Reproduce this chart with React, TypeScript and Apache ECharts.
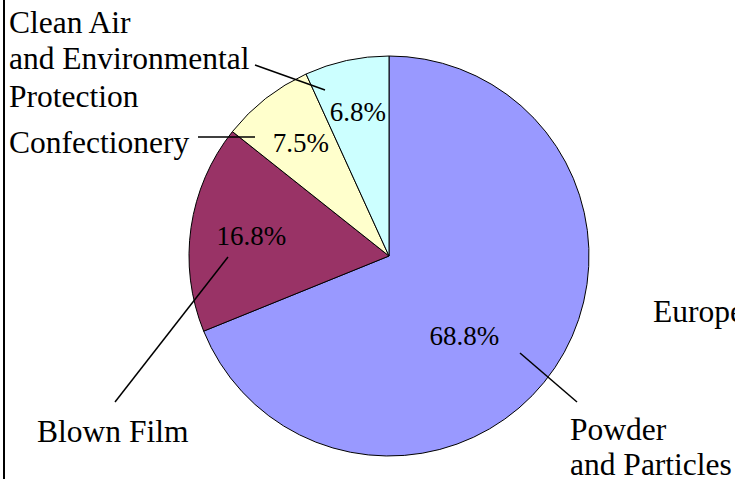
import React, { useEffect, useRef } from "react";
import * as echarts from "echarts";

// Segment shares (%), drawn clockwise from 12 o'clock
const categories = ["Powder and Particles", "Blown Film", "Confectionery", "Clean Air and Environmental Protection"];
const shares = [68.8, 16.8, 7.5, 6.8];
const sliceColors = ["#9999FF", "#993366", "#FFFFCC", "#CCFFFF"];

// Category label text as it is broken over lines
const categoryLines = [
  ["Powder", "and Particles"],
  ["Blown Film"],
  ["Confectionery"],
  ["Clean Air", "and Environmental", "Protection"],
];
const regionLabel = "Europe";

// Layout
const W = 735;
const H = 479;
const CX = 389;
const CY = 256;
const R = 200;
const FONT = "Liberation Serif, Times New Roman, serif";
const PCT_SIZE = 27;
const CAT_SIZE = 31.5;

// Where the percentage text sits inside each slice (fraction of radius, angle nudge in degrees)
const pctRadiusFrac = [0.55, 0.695, 0.715, 0.735];
const pctAngleShift = [12.7, 0, 0, 0];

// Category label anchors: left x and the baseline of each line
const catAnchors: { x: number; baselines: number[] }[] = [
  { x: 570, baselines: [440, 475] },
  { x: 37, baselines: [442] },
  { x: 9, baselines: [153] },
  { x: 9, baselines: [33, 69, 107] },
];
// Leader lines from label to slice
const leaders: [number, number, number, number][] = [
  [577, 402, 520, 353],
  [115, 402, 228, 257],
  [198, 137, 255, 137],
  [255, 65, 325, 90],
];

export default function App() {
  const ref = useRef<HTMLDivElement>(null);

  useEffect(() => {
    if (!ref.current) return;
    const chart = echarts.init(ref.current, undefined, { renderer: "svg" });

    const total = shares.reduce((a, b) => a + b, 0);
    let acc = 0;
    const midAngles = shares.map((v) => {
      const m = ((acc + v / 2) / total) * 360;
      acc += v;
      return m;
    });

    const pctPos = midAngles.map((m, i) => {
      const a = ((m + pctAngleShift[i]) * Math.PI) / 180;
      const r = R * pctRadiusFrac[i];
      return [CX + r * Math.sin(a), CY - r * Math.cos(a)];
    });

    // central baseline offset for the serif face
    const centralShift = (fs: number) => fs * 0.3375;

    const graphics: any[] = [
      {
        type: "line",
        shape: { x1: 4, y1: 0, x2: 4, y2: H },
        style: { stroke: "#000", lineWidth: 2 },
        silent: true,
      },
    ];

    leaders.forEach(([x1, y1, x2, y2]) => {
      graphics.push({
        type: "line",
        shape: { x1, y1, x2, y2 },
        style: { stroke: "#000", lineWidth: 1.5 },
        silent: true,
        z: 10,
      });
    });

    const textStyle = (t: string) => ({
      text: t,
      font: `${CAT_SIZE}px ${FONT}`,
      fill: "#000",
      align: "left",
      verticalAlign: "middle",
    });

    categoryLines.forEach((lines, i) => {
      const { x, baselines } = catAnchors[i];
      lines.forEach((t, j) => {
        graphics.push({
          type: "text",
          x,
          y: baselines[j] - centralShift(CAT_SIZE),
          style: textStyle(t),
          silent: true,
          z: 10,
        });
      });
    });

    graphics.push({
      type: "text",
      x: 653,
      y: 322 - centralShift(CAT_SIZE),
      style: textStyle(regionLabel),
      silent: true,
    });

    chart.setOption({
      animation: false,
      backgroundColor: "#ffffff",
      series: [
        {
          type: "pie",
          center: [CX, CY],
          radius: R,
          startAngle: 90,
          clockwise: true,
          silent: true,
          emphasis: { disabled: true },
          itemStyle: { borderColor: "#000", borderWidth: 1 },
          label: {
            show: true,
            position: "inside",
            formatter: (p: any) => `${Number(p.value).toFixed(1)}%`,
            fontFamily: FONT,
            fontSize: PCT_SIZE,
            color: "#000",
          },
          labelLine: { show: false },
          labelLayout: (p: any) => {
            const [x, y] = pctPos[p.dataIndex];
            return { x, y, align: "center", verticalAlign: "middle" };
          },
          data: shares.map((v, i) => ({
            name: categories[i],
            value: v,
            itemStyle: { color: sliceColors[i] },
          })),
        },
      ],
      graphic: graphics,
    });

    return () => chart.dispose();
  }, []);

  return (
    <div
      ref={ref}
      style={{ position: "fixed", left: 0, top: 0, width: W, height: H, background: "#fff" }}
    />
  );
}
